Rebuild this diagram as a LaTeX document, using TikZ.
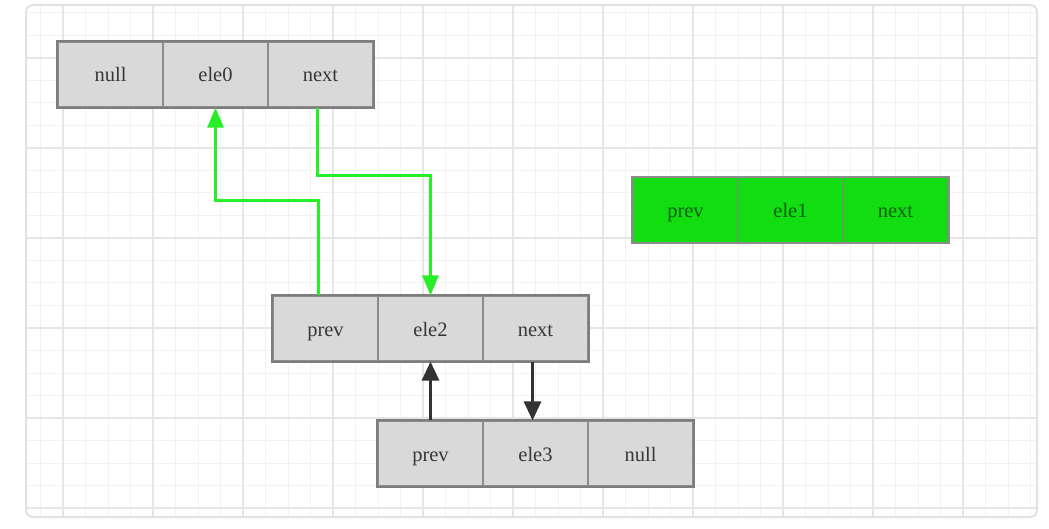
\documentclass[tikz,border=0pt]{standalone}
\usepackage{fontspec}
\setmainfont{Liberation Serif}
\usepackage{tikz}
\usetikzlibrary{arrows.meta, positioning, calc}
\definecolor{cellgray}{RGB}{217, 217, 217}
\definecolor{celledge}{RGB}{140, 140, 140}
\definecolor{boxedge}{RGB}{125, 125, 125}
\definecolor{txtgray}{RGB}{55, 55, 55}
\definecolor{nodegreen}{RGB}{17, 221, 17}
\definecolor{txtgreen}{RGB}{15, 95, 15}
\definecolor{linkgreen}{RGB}{40, 238, 40}
\definecolor{darklink}{RGB}{50, 50, 50}
\definecolor{gridminor}{RGB}{242, 242, 242}
\definecolor{gridmajor}{RGB}{230, 230, 230}
\definecolor{framegray}{RGB}{226, 226, 226}

\tikzset{
	cell/.style={draw=celledge, line width=1.2pt, fill=cellgray, text=txtgray,
		minimum width=105pt, minimum height=65pt, inner sep=0pt,
		text height=17pt, text depth=2pt,
		font=\fontsize{20.5}{24}\selectfont},
	greencell/.style={cell, fill=nodegreen, draw=nodegreen!60!black!70, text=txtgreen},
	outline/.style={draw=boxedge, line width=2pt},
	glink/.style={draw=linkgreen, line width=2.8pt, -{Triangle[width=16pt,length=20pt]}},
	dlink/.style={draw=darklink, line width=3pt, -{Triangle[width=17pt,length=19pt]}},
}

\begin{document}
\begin{tikzpicture}[x=1pt,y=-1pt]
	\useasboundingbox (0,0) rectangle (1049,529);
	
	% grid paper
	\begin{scope}
		\clip[rounded corners=7pt] (26,5) rectangle (1037,517);
		\foreach \x in {0,...,44}
		\draw[gridminor, line width=1pt] ({40.5+22.5*\x},5) -- ({40.5+22.5*\x},517);
		\foreach \y in {0,...,22}
		\draw[gridminor, line width=1pt] (26,{13+22.5*\y}) -- (1037,{13+22.5*\y});
		\foreach \x in {0,...,10}
		\draw[gridmajor, line width=1.4pt] ({63+90*\x},5) -- ({63+90*\x},517);
		\foreach \y in {0,...,5}
		\draw[gridmajor, line width=1.4pt] (26,{58+90*\y}) -- (1037,{58+90*\y});
	\end{scope}
	\draw[framegray, line width=2pt, rounded corners=7pt] (26,5) rectangle (1037,517);
	
	% ele0
	\node foreach \lbl [count=\i] in {null,ele0,next}
	[cell] (a\i) at (5.5+105*\i,74.5) {\lbl};
	\draw[outline] (a1.north west) rectangle (a3.south east);
	
	% ele1
	\node foreach \lbl [count=\i] in {prev,ele1,next}
	[greencell] (d\i) at (580.5+105*\i,210) {\lbl};
	\draw[outline, draw=gray!90] (d1.north west) rectangle (d3.south east);
	
	% ele2
	\node foreach \lbl [count=\i] in {prev,ele2,next}
	[cell] (b\i) at (220.5+105*\i,328.5) {\lbl};
	\draw[outline] (b1.north west) rectangle (b3.south east);
	
	% ele3
	\node foreach \lbl [count=\i] in {prev,ele3,null}
	[cell] (c\i) at (325.5+105*\i,453.5) {\lbl};
	\draw[outline] (c1.north west) rectangle (c3.south east);
	
	\draw[glink] ([xshift=-7pt]b1.north) -- ++(0,-95) -| (a2.south);
	\draw[glink] ([xshift=-3pt]a3.south) -- ++(0,68) -| (b2.north);
	
	\draw[dlink] (c1.north) -- (b2.south);
	\draw[dlink] ([xshift=-3pt]b3.south) -- ([xshift=-3pt]c2.north);
\end{tikzpicture}
\end{document}
